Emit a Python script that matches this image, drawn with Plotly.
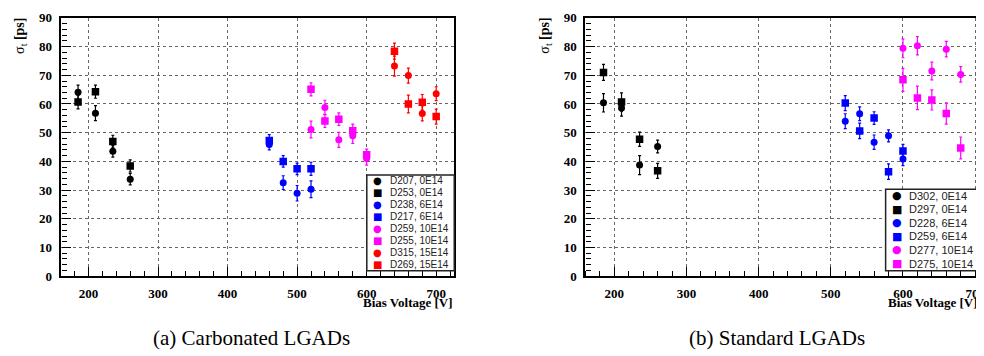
import plotly.graph_objects as go

W, H = 984, 356

# ---------------- data: (a) Carbonated LGADs ----------------
a_names = ["D207, 0E14", "D253, 0E14", "D238, 6E14", "D217, 6E14",
           "D259, 10E14", "D255, 10E14", "D315, 15E14", "D269, 15E14"]
a_v_d207 = [185, 210, 235, 260]
a_t_d207 = [64.1, 56.8, 43.5, 33.8]
a_e_d207 = [2.5, 2.6, 2.0, 2.0]
a_v_d253 = [185, 210, 235, 260]
a_t_d253 = [60.7, 64.3, 46.9, 38.4]
a_e_d253 = [2.4, 2.3, 2.2, 2.1]
a_v_d238 = [460, 480, 500, 520]
a_t_d238 = [45.9, 32.6, 28.9, 30.3]
a_e_d238 = [1.9, 2.4, 2.7, 2.9]
a_v_d217 = [460, 480, 500, 520]
a_t_d217 = [47.3, 40.0, 37.4, 37.4]
a_e_d217 = [2.0, 2.0, 2.0, 2.3]
a_v_d259 = [520, 540, 560, 580, 600]
a_t_d259 = [51.1, 58.8, 47.5, 48.9, 41.0]
a_e_d259 = [2.9, 2.5, 2.6, 2.6, 2.3]
a_v_d255 = [520, 540, 560, 580, 600]
a_t_d255 = [65.1, 54.1, 54.7, 50.7, 42.3]
a_e_d255 = [2.3, 2.3, 2.2, 2.3, 2.0]
a_v_d315 = [640, 660, 680, 700]
a_t_d315 = [73.2, 69.9, 56.7, 63.6]
a_e_d315 = [3.5, 2.6, 2.6, 2.4]
a_v_d269 = [640, 660, 680, 700]
a_t_d269 = [78.4, 60.0, 60.6, 55.6]
a_e_d269 = [2.8, 3.1, 2.7, 2.6]

# ---------------- data: (b) Standard LGADs ----------------
b_names = ["D302, 0E14", "D297, 0E14", "D228, 6E14", "D259, 6E14",
           "D277, 10E14", "D275, 10E14"]
b_v_d302 = [185, 210, 235, 260]
b_t_d302 = [60.4, 58.6, 38.7, 45.2]
b_e_d302 = [3.2, 2.8, 3.3, 2.2]
b_v_d297 = [185, 210, 235, 260]
b_t_d297 = [71.0, 60.7, 47.7, 36.7]
b_e_d297 = [2.8, 3.2, 2.5, 2.6]
b_v_d228 = [520, 540, 560, 580, 600]
b_t_d228 = [54.0, 56.6, 46.7, 48.9, 40.8]
b_e_d228 = [2.6, 2.4, 2.5, 2.1, 2.3]
b_v_d259 = [520, 540, 560, 580, 600]
b_t_d259 = [60.3, 50.6, 55.1, 36.4, 43.6]
b_e_d259 = [2.6, 2.7, 2.2, 2.7, 2.3]
b_v_d277 = [600, 620, 640, 660, 680]
b_t_d277 = [79.4, 80.3, 71.5, 79.1, 70.3]
b_e_d277 = [3.3, 3.2, 3.1, 2.7, 2.7]
b_v_d275 = [600, 620, 640, 660, 680]
b_t_d275 = [68.4, 62.1, 61.4, 56.7, 44.7]
b_e_d275 = [4.0, 4.1, 3.5, 3.7, 3.8]

captions = ["(a) Carbonated LGADs", "(b) Standard LGADs"]
x_title = "Bias Voltage [V]"

BLACK, BLUE, MAG, RED = "#000000", "#0000ff", "#ff00ff", "#ff0000"

a_series = [
    (a_v_d207, a_t_d207, a_e_d207, BLACK, "circle"),
    (a_v_d253, a_t_d253, a_e_d253, BLACK, "square"),
    (a_v_d238, a_t_d238, a_e_d238, BLUE, "circle"),
    (a_v_d217, a_t_d217, a_e_d217, BLUE, "square"),
    (a_v_d259, a_t_d259, a_e_d259, MAG, "circle"),
    (a_v_d255, a_t_d255, a_e_d255, MAG, "square"),
    (a_v_d315, a_t_d315, a_e_d315, RED, "circle"),
    (a_v_d269, a_t_d269, a_e_d269, RED, "square"),
]
b_series = [
    (b_v_d302, b_t_d302, b_e_d302, BLACK, "circle"),
    (b_v_d297, b_t_d297, b_e_d297, BLACK, "square"),
    (b_v_d228, b_t_d228, b_e_d228, BLUE, "circle"),
    (b_v_d259, b_t_d259, b_e_d259, BLUE, "square"),
    (b_v_d277, b_t_d277, b_e_d277, MAG, "circle"),
    (b_v_d275, b_t_d275, b_e_d275, MAG, "square"),
]

fig = go.Figure()

# empty traces that register the overlay axes (grid-only and tick-only)
for xa, ya in (("x3", "y3"), ("x4", "y4"), ("x5", "y"), ("x", "y5"),
               ("x6", "y2"), ("x2", "y6")):
    fig.add_trace(go.Scatter(x=[], y=[], xaxis=xa, yaxis=ya, showlegend=False,
                             hoverinfo="skip"))


def add_series(series, names, xa, ya):
    for (v, t, e, c, sym), nm in zip(series, names):
        fig.add_trace(go.Scatter(
            x=v, y=t, mode="markers", name=nm, showlegend=False,
            xaxis=xa, yaxis=ya,
            marker=dict(symbol=sym, color=c, size=7 if sym == "circle" else 7.5,
                        line=dict(width=0)),
            error_y=dict(type="data", array=e, visible=True, color=c,
                         thickness=1.2, width=1.5),
        ))


add_series(a_series, a_names, "x", "y")
add_series(b_series, b_names, "x2", "y2")


def px(x):
    return x / W


def py(y):
    return 1 - y / H


SERIF = "Liberation Serif"
SANS = "Liberation Sans"
tickfont = dict(family=SERIF, size=13, color="black", weight="bold")
XR_A, XR_B, YR = [160, 726], [160, 705], [0, 90]


def main_axis(dom, rng, dt, anchor):
    return dict(domain=dom, range=rng, anchor=anchor,
                tickmode="linear", tick0=0, dtick=dt, ticks="",
                showline=True, linewidth=2, linecolor="black", mirror=True,
                showgrid=False, zeroline=False, tickfont=tickfont,
                ticklabeloverflow="allow", ticklabelstandoff=4)


def grid_axis(dom, rng, dt, anchor, over):
    return dict(domain=dom, range=rng, anchor=anchor, overlaying=over,
                tickmode="linear", tick0=0, dtick=dt, ticks="",
                showticklabels=False, showline=False, zeroline=False,
                showgrid=True, gridcolor="#666666", griddash="dot",
                gridwidth=1)


def tick_axis(dom, rng, dt, mdt, side, pos, over):
    # outside ticks of an opposite-side axis placed on the frame edge
    # point into the plot area, like ROOT's inside ticks
    return dict(domain=dom, range=rng, anchor="free", position=pos,
                overlaying=over, side=side,
                tickmode="linear", tick0=0, dtick=dt,
                ticks="outside", ticklen=9, tickwidth=1, tickcolor="black",
                minor=dict(dtick=mdt, ticks="outside", ticklen=5,
                           tickcolor="black"),
                showticklabels=False, showline=False, zeroline=False,
                showgrid=False)


ydom = [py(272.7), py(3)]
dom_a = [px(53), px(449)]
dom_b = [px(581), px(976.7)]
fig.update_layout(
    width=W, height=H, margin=dict(l=0, r=0, t=0, b=0),
    paper_bgcolor="white", plot_bgcolor="rgba(0,0,0,0)", showlegend=False,
    xaxis=main_axis(dom_a, XR_A, 100, "y"),
    yaxis=main_axis(ydom, YR, 10, "x"),
    xaxis2=main_axis(dom_b, XR_B, 100, "y2"),
    yaxis2=main_axis(ydom, YR, 10, "x2"),
    xaxis3=grid_axis(dom_a, XR_A, 100, "y3", "x"),
    yaxis3=grid_axis(ydom, YR, 10, "x3", "y"),
    xaxis4=grid_axis(dom_b, XR_B, 100, "y4", "x2"),
    yaxis4=grid_axis(ydom, YR, 10, "x4", "y2"),
    xaxis5=tick_axis(dom_a, XR_A, 100, 20, "top", ydom[0], "x"),
    yaxis5=tick_axis(ydom, YR, 10, 2, "right", dom_a[0], "y"),
    xaxis6=tick_axis(dom_b, XR_B, 100, 20, "top", ydom[0], "x2"),
    yaxis6=tick_axis(ydom, YR, 10, 2, "right", dom_b[0], "y2"),
)

annotations = []
shapes = []

# axis titles
for xc in (13, 541):
    annotations.append(dict(
        x=px(xc), y=py(1), xref="paper", yref="paper", xanchor="center",
        yanchor="top", textangle=-90, showarrow=False,
        text="σ<sub>t</sub> <b>[ps]</b>",
        font=dict(family=SERIF, size=14, color="black")))
for xr in (450, 978):
    annotations.append(dict(
        x=px(xr), y=py(300), xref="paper", yref="paper", xanchor="right",
        yanchor="middle", showarrow=False, text="<b>%s</b>" % x_title,
        font=dict(family=SERIF, size=13, color="black")))

# captions
for xc, cap in zip((245, 774), captions):
    annotations.append(dict(
        x=px(xc), y=py(337), xref="paper", yref="paper", xanchor="center",
        yanchor="middle", showarrow=False, text=cap,
        font=dict(family=SERIF, size=21, color="black")))


def legend(box, y0, dy, sx, tx, series, names, fs):
    x0, y0b, x1, y1 = box
    shapes.append(dict(type="rect", xref="paper", yref="paper",
                       x0=px(x0), x1=px(x1), y0=py(y1), y1=py(y0b),
                       line=dict(color="#222222", width=1.5),
                       fillcolor="white", layer="above"))
    for i, ((v, t, e, c, sym), nm) in enumerate(zip(series, names)):
        yy = y0 + i * dy
        annotations.append(dict(
            x=px(sx), y=py(yy), xref="paper", yref="paper", xanchor="center",
            yanchor="middle", showarrow=False,
            text="●" if sym == "circle" else "■",
            font=dict(family="DejaVu Sans", size=fs, color=c)))
        annotations.append(dict(
            x=px(tx), y=py(yy), xref="paper", yref="paper", xanchor="left",
            yanchor="middle", showarrow=False, text=nm,
            font=dict(family=SANS, size=fs, color="#222222")))


legend((361, 167, 449, 267), 173, 12.5, 372, 382, a_series, a_names, 10)
legend((883, 182, 977, 267), 188.5, 14.2, 894, 905, b_series, b_names, 11)

fig.update_layout(annotations=annotations, shapes=shapes)
fig.write_html("out.html")
